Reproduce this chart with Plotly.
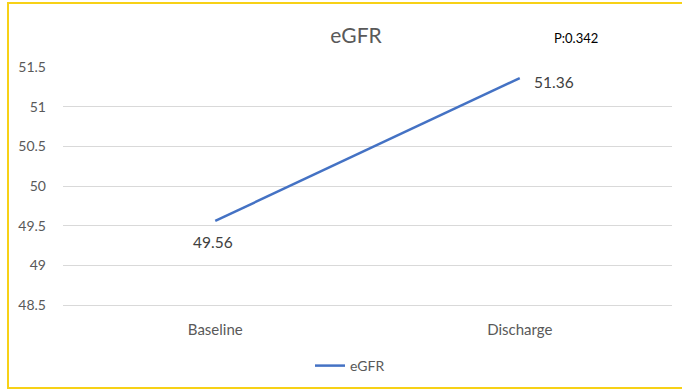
import plotly.graph_objects as go

# eGFR at baseline vs discharge
categories = ["Baseline", "Discharge"]
egfr_values = [49.56, 51.36]
value_labels = ["49.56", "51.36"]
y_ticks = [48.5, 49, 49.5, 50, 50.5, 51, 51.5]
p_value_text = "P:0.342"

FONT = "Lato, Calibri, Carlito, sans-serif"
GREY = "#595959"

fig = go.Figure()
fig.add_trace(go.Scatter(
    x=categories,
    y=egfr_values,
    mode="lines",
    name="eGFR",
    line=dict(color="#4472C4", width=2.5),
))

# value labels: first one below the point, second one to the right
label_offsets = [dict(xshift=-2, yshift=-21, xanchor="center"),
                 dict(xshift=12, yshift=-4, xanchor="left")]
label_annotations = [
    dict(x=c, y=v, xref="x", yref="y", text=t, showarrow=False,
         yanchor="middle", font=dict(family=FONT, size=15.5, color="#404040"), **off)
    for c, v, t, off in zip(categories, egfr_values, value_labels, label_offsets)
]

fig.update_layout(
    width=682,
    height=391,
    margin=dict(l=63, r=10, t=67, b=86, autoexpand=False),
    paper_bgcolor="white",
    plot_bgcolor="white",
    title=dict(text="eGFR", x=356 / 682, xanchor="center", y=1 - 36 / 391, yanchor="middle",
               font=dict(family=FONT, size=21, color=GREY)),
    showlegend=True,
    legend=dict(orientation="h", x=(350 - 63) / 609, xanchor="center",
                y=(305 - 366) / 238, yanchor="middle",
                bgcolor="rgba(0,0,0,0)",
                font=dict(family=FONT, size=14, color=GREY),
                itemwidth=30),
    xaxis=dict(
        type="category",
        range=[-0.5, 1.5],
        showgrid=False,
        showline=True,
        linecolor="#d9d9d9",
        linewidth=1,
        ticks="",
        ticklabelstandoff=11,
        tickfont=dict(family=FONT, size=15, color=GREY),
        zeroline=False,
    ),
    yaxis=dict(
        range=[48.5, 51.5],
        tickvals=y_ticks,
        ticktext=[f"{v:g}" for v in y_ticks],
        showgrid=True,
        gridcolor="#d9d9d9",
        gridwidth=1,
        showline=False,
        zeroline=False,
        ticks="",
        ticklabelstandoff=16,
        tickfont=dict(family=FONT, size=14, color=GREY),
    ),
    annotations=label_annotations + [dict(
        text=p_value_text, xref="paper", yref="paper",
        x=(576 - 63) / 609, y=(305 - 38) / 238,
        xanchor="center", yanchor="middle", showarrow=False,
        font=dict(family=FONT, size=13, color="black"),
    )],
    shapes=[dict(
        type="rect", xref="paper", yref="paper",
        x0=(8 - 63) / 609, x1=(690 - 63) / 609,
        y0=(305 - 388) / 238, y1=(305 - 3) / 238,
        line=dict(color="#F7D117", width=2),
        fillcolor="rgba(0,0,0,0)", layer="below",
    )],
)

fig.write_html("out.html")
